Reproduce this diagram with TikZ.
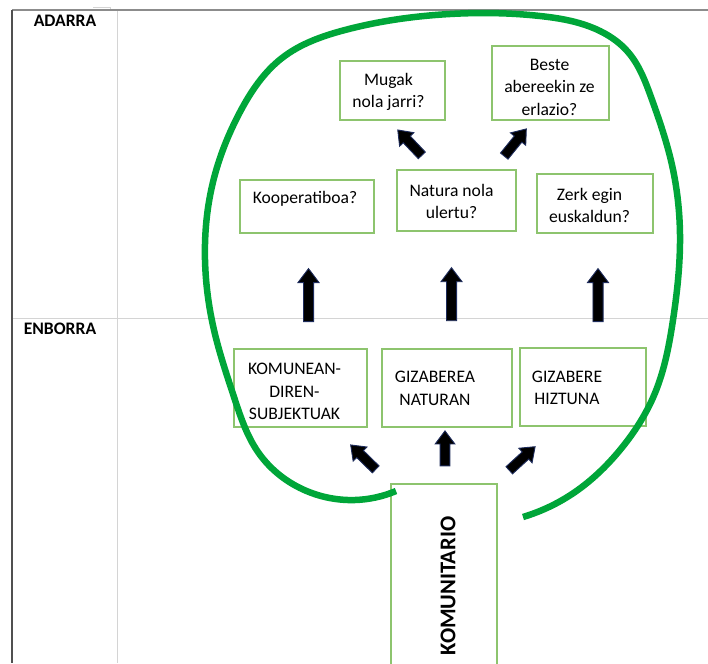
\documentclass[tikz,border=0pt]{standalone}
\usepackage{fontspec}
\setmainfont{Carlito}
\usetikzlibrary{shapes.arrows,calc,hobby}
\definecolor{boxgreen}{RGB}{141,196,110}
\definecolor{treegreen}{RGB}{0,166,57}
\definecolor{arrowblue}{RGB}{30,44,92}
\definecolor{gridlight}{RGB}{212,212,212}
\definecolor{griddark}{RGB}{80,80,80}
\definecolor{gridmid}{RGB}{140,140,140}
\begin{document}
\begin{tikzpicture}[x=1pt,y=-1pt,
  box/.style={draw=boxgreen, line width=1.4pt, rectangle, inner sep=0pt},
  lbl/.style={align=center, inner sep=0pt, font=\fontsize{17.6}{22.5}\selectfont},
  rowhead/.style={inner sep=0pt, font=\fontsize{17.6}{22.5}\selectfont\bfseries},
  blockarrow/.style={shape=single arrow, fill=black, draw=arrowblue, line width=0.9pt,
    inner xsep=0pt, inner ysep=4.6pt, single arrow head extend=5.5pt,
    single arrow tip angle=74, single arrow head indent=0pt,
    sloped, allow upside down},
  longarrow/.style={blockarrow, minimum height=53pt},
  shortarrow/.style={blockarrow, inner ysep=4.4pt, single arrow head extend=5pt, minimum height=35pt}]
\useasboundingbox (0,0) rectangle (708,663);

% table frame
\draw[gridlight, line width=1pt] (117,10) -- (117,663);
\draw[gridlight, line width=1pt] (12,318) -- (708,318);
\draw[gridlight, line width=0.8pt] (93,7) -- (110,7) -- (110,9);
\draw[gridmid, line width=1.3pt] (12,10) -- (708,10);
\draw[griddark, line width=1.3pt] (12,10) -- (12,663);

\node[rowhead] (adarra) at (65,21) {ADARRA};
\node[rowhead] (enborra) at (60,329) {ENBORRA};

% branch boxes
\node[box, minimum width=105pt, minimum height=59pt] (mugak) at (392.5,90.5) {};
\node[lbl] (mugakT) at (388.5,92) {Mugak\\nola jarri?};
\node[box, minimum width=117pt, minimum height=74pt] (beste) at (550.5,83) {};
\node[lbl] (besteT) at (549.5,87) {Beste\\abereekin ze\\erlazio?};
\node[box, minimum width=134pt, minimum height=53pt] (koop) at (307,206.5) {};
\node[lbl] (koopT) at (305,199) {Kooperatiboa?};
\node[box, minimum width=119pt, minimum height=61pt] (natura) at (456.5,200.5) {};
\node[lbl] (naturaT) at (451.5,201.5) {Natura nola\\ulertu?};
\node[box, minimum width=116pt, minimum height=59pt] (zerk) at (595,203.5) {};
\node[lbl] (zerkT) at (589.5,205.5) {Zerk egin\\euskaldun?};

% trunk boxes
\node[box, minimum width=133pt, minimum height=78pt] (subj) at (300.5,388) {};
\node[lbl] (subjT) at (294.5,391.5) {KOMUNEAN-\\DIREN-\\SUBJEKTUAK};
\node[box, minimum width=130pt, minimum height=78pt] (natur) at (447,388) {};
\node[lbl] (naturT) at (435,388.5) {GIZABEREA\\NATURAN};
\node[box, minimum width=126pt, minimum height=78pt] (hiztun) at (583,387) {};
\node[lbl] (hiztunT) at (567,388) {GIZABERE\\HIZTUNA};

\node[box, minimum width=106pt, minimum height=190pt] (komun) at (444,579) {};
\node[rotate=90, inner sep=0pt, font=\fontsize{22.5}{27}\selectfont\bfseries] (komunT) at (448,586) {KOMUNITARIO};

% crown outline
\draw[treegreen, line width=6.5pt, use Hobby shortcut]
  (396,491) .. (355,500) .. (300,488) .. (258,452) .. (234,397) .. (214,330)
  .. (205,260) .. (213,182) .. (240,112) .. (282,58) .. (345,30) .. (450,14)
  .. (540,16) .. (600,31) .. (628,52) .. (651,97) .. (672,165) .. (680,235)
  .. (673,320) .. (655,393) .. (620,450) .. (575,492) .. (523,517);

% arrows from trunk to branches
\path ([xshift=8pt]subj.north) -- ([xshift=1.5pt]koop.south) node[pos=0.435, longarrow] (a1) {};
\path ([xshift=4.5pt]natur.north) -- ([xshift=-5pt]natura.south) node[pos=0.435, longarrow] (a2) {};
\path ([xshift=15pt]hiztun.north) -- ([xshift=3pt]zerk.south) node[pos=0.43, longarrow] (a3) {};

\path ([xshift=-21.5pt]natura.north) -- ([xshift=-3.5pt]mugak.south) node[pos=0.5, shortarrow] (a4) {};
\path ([xshift=37pt]natura.north) -- ([xshift=-17.5pt]beste.south) node[pos=0.5, shortarrow] (a5) {};

\path ([xshift=-54pt]komun.north) -- ([xshift=32.5pt]subj.south) node[pos=0.43, shortarrow] (a6) {};
\path ([xshift=1pt]komun.north) -- ([xshift=-2pt]natur.south) node[pos=0.57, shortarrow] (a7) {};
\path ([xshift=51pt]komun.north) -- ([xshift=-26pt]hiztun.south) node[pos=0.40, shortarrow] (a8) {};
\end{tikzpicture}
\end{document}
